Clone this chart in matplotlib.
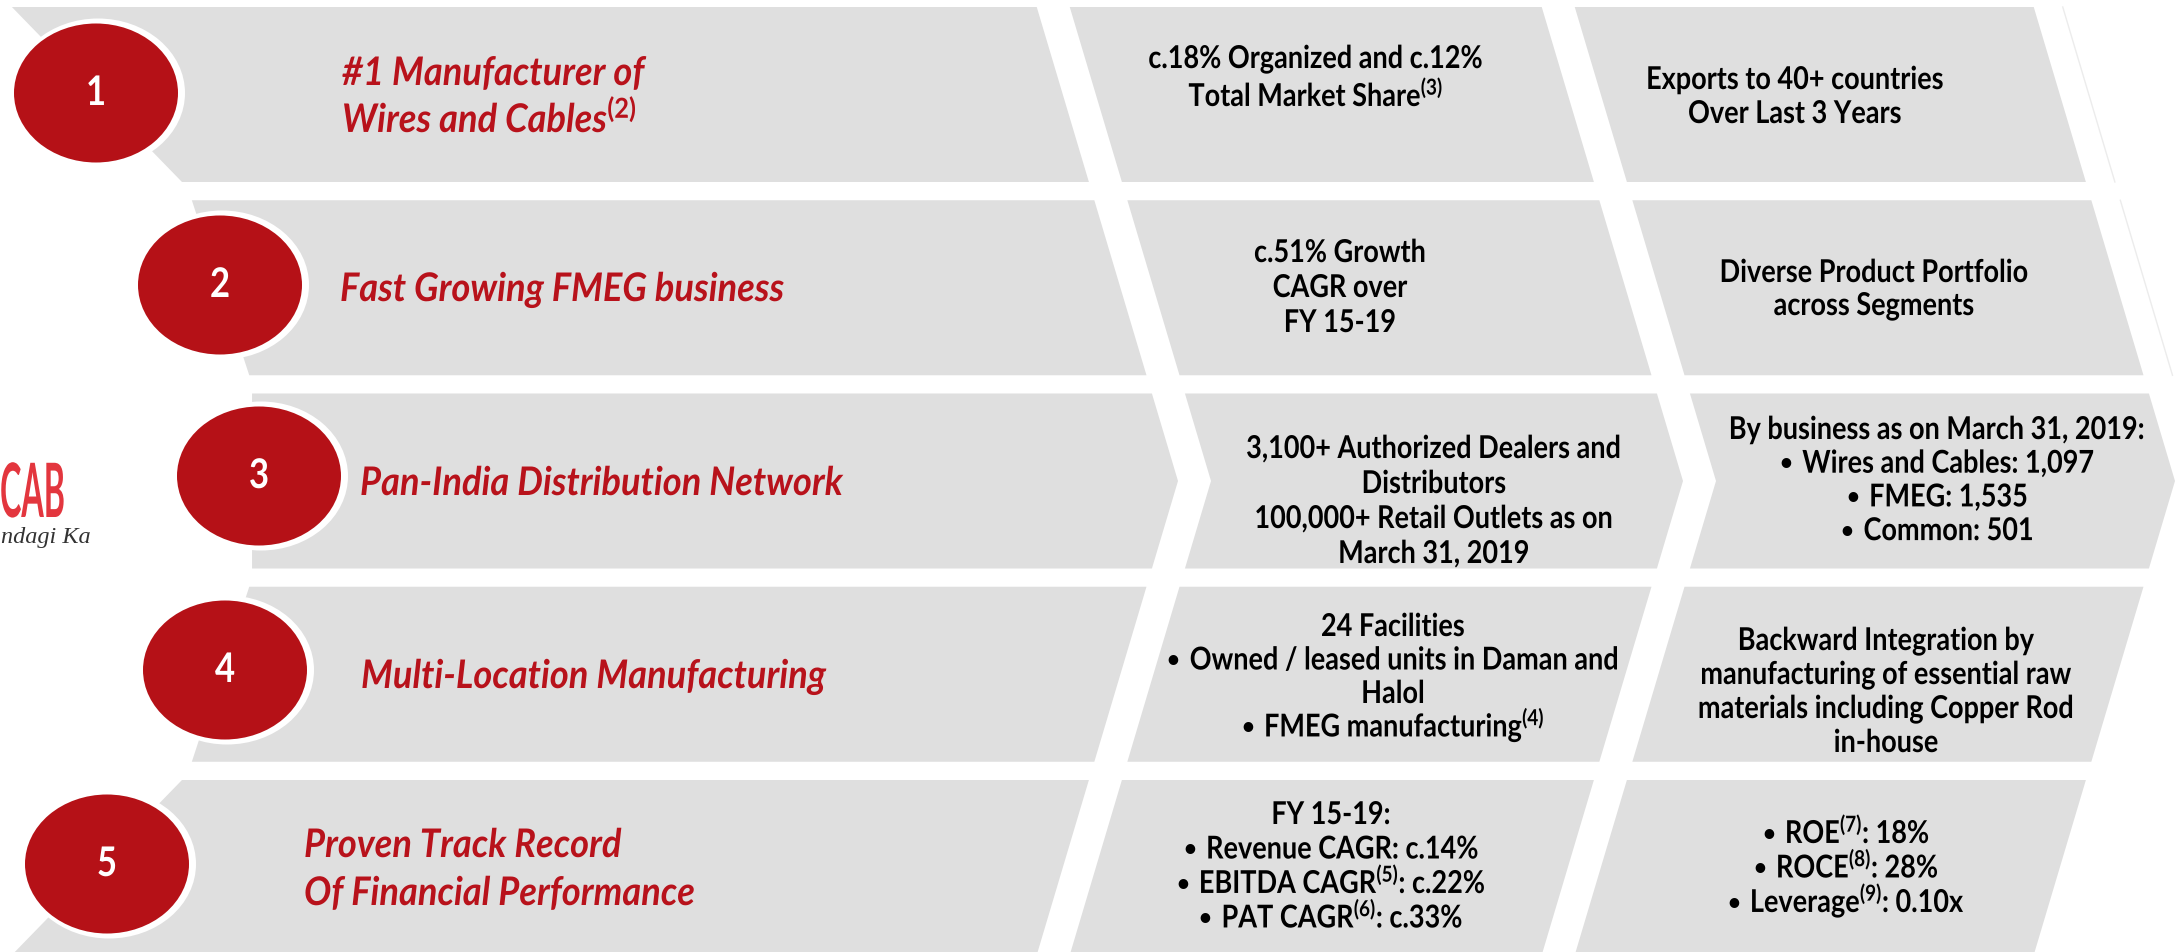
import numpy as np
import matplotlib
matplotlib.use("Agg")
import matplotlib.pyplot as plt
from matplotlib.patches import Polygon, Ellipse
from matplotlib.patheffects import AbstractPathEffect
from matplotlib.transforms import Affine2D, Bbox

# ---------------- data (text content) ----------------
BUL = "\u2022 "  # bullet marker used in the lists
numbers = ["1", "2", "3", "4", "5"]
titles = [
    ["#1 Manufacturer of", "Wires and Cables$^{\\mathit{(2)}}$"],
    ["Fast Growing FMEG business"],
    ["Pan-India Distribution Network"],
    ["Multi-Location Manufacturing"],
    ["Proven Track Record", "Of Financial Performance"],
]
middle_texts = [
    ["c.18% Organized and c.12%", "Total Market Share$^{(3)}$"],
    ["c.51% Growth", "CAGR over", "FY 15-19"],
    ["3,100+ Authorized Dealers and", "Distributors",
     "100,000+ Retail Outlets as on", "March 31, 2019"],
    ["24 Facilities", BUL + "Owned / leased units in Daman and", "Halol",
     BUL + "FMEG manufacturing$^{(4)}$"],
    ["FY 15-19:", BUL + "Revenue CAGR: c.14%", BUL + "EBITDA CAGR$^{(5)}$: c.22%",
     BUL + "PAT CAGR$^{(6)}$: c.33%"],
]
right_texts = [
    ["Exports to 40+ countries", "Over Last 3 Years"],
    ["Diverse Product Portfolio", "across Segments"],
    ["By business as on March 31, 2019:", BUL + "Wires and Cables: 1,097",
     BUL + "FMEG: 1,535", BUL + "Common: 501"],
    ["Backward Integration by", "manufacturing of essential raw",
     "materials including Copper Rod", "in-house"],
    [BUL + "ROE$^{(7)}$: 18%", BUL + "ROCE$^{(8)}$: 28%", BUL + "Leverage$^{(9)}$: 0.10x"],
]
logo_word = "CAB"
logo_tagline = "ndagi Ka"

# ---------------- layout ----------------
W, H, DPI = 2177, 952, 100
ROW_TOP0, ROW_PITCH, ROW_H = 7, 193.25, 175
MID_Y = 481
SLOPE = 0.298
APEX_A, APEX_B, APEX_C, APEX_D, APEX_E, APEX_F = 1178, 1211, 1683, 1716, 2175, 2204
ARC_CX, ARC_A, ARC_B = -160, 418, 520

ell_cx = [96, 220, 259, 225, 107]
ell_cy = [93, 285, 476, 670, 864]
ELL_W, ELL_H = 164, 139

title_x = [342, 340, 360, 361, 304]
title_base = [[85, 132], [301], [495], [688], [857, 905]]

mid_x = [1316, 1340, 1434, 1393, 1331]
mid_b0 = [68, 262, 458, 636, 824]
mid_step = [38, 35, 35, 33.5, 34.5]

right_x = [1795, 1874, 1937, 1886, 1846]
right_b0 = [89, 282, 439, 650, 843]
right_step = [34, 33, 33.7, 34, 34.5]

BODY_SQ = 0.86     # horizontal squeeze, gives the narrow Calibri-like look
TITLE_SQ = 0.92
NUM_SQ = 0.85
BULLET_GAP = 23    # px from bullet start to first letter

GRAY = "#dfdfdf"
RED = "#b51117"
TITLE_RED = "#b8121b"
LOGO_RED = "#e3363e"

plt.rcParams["font.family"] = ["Lato", "DejaVu Sans"]
plt.rcParams["mathtext.fontset"] = "custom"
plt.rcParams["mathtext.rm"] = "Lato:bold"
plt.rcParams["mathtext.bf"] = "Lato:bold"
plt.rcParams["mathtext.it"] = "Lato:italic:bold"

fig = plt.figure(figsize=(W / DPI, H / DPI), dpi=DPI)
ax = fig.add_axes([0, 0, 1, 1])
ax.set_xlim(0, W)
ax.set_ylim(H, 0)
ax.axis("off")
renderer = fig.canvas.get_renderer()


class Squeeze(AbstractPathEffect):
    """Draw text glyphs scaled horizontally about the text origin."""

    def __init__(self, sx):
        super().__init__()
        self.sx = sx

    def draw_path(self, renderer, gc, tpath, affine, rgbFace=None):
        renderer.draw_path(gc, tpath, Affine2D().scale(self.sx, 1) + affine, rgbFace)


def left_x(y):
    return ARC_CX + ARC_A * np.sqrt(max(0.0, 1 - ((y - MID_Y) / ARC_B) ** 2))


def chev_x(apex, y):
    return apex - SLOPE * abs(y - MID_Y)


def edge(apex, top, bot):
    pts = [(chev_x(apex, top), top)]
    if top < MID_Y < bot:
        pts.append((chev_x(apex, MID_Y), MID_Y))
    pts.append((chev_x(apex, bot), bot))
    return pts


def text_width(s, size, **kw):
    t = ax.text(0, 0, s, fontsize=size, **kw)
    w = t.get_window_extent(renderer).width
    t.remove()
    return w


def put(x, y, s, size, sx, ha="left", **kw):
    """Place (squeezed) text with its baseline at y."""
    w = text_width(s, size, **kw) * sx
    x0 = x - w / 2 if ha == "center" else x
    t = ax.text(x0, y, s, fontsize=size, ha="left", va="baseline", zorder=4, **kw)
    if sx != 1:
        t.set_path_effects([Squeeze(sx)])
        orig = t.get_window_extent

        def squeezed_extent(renderer=None, dpi=None, _orig=orig, _sx=sx):
            bb = _orig(renderer, dpi)
            return Bbox.from_extents(bb.x0, bb.y0, bb.x0 + bb.width * _sx, bb.y1)

        t.get_window_extent = squeezed_extent
    return x0, w


def put_line(x, y, s, size, sx, **kw):
    """Centered line; a leading bullet is drawn smaller, as in the original."""
    if s.startswith(BUL):
        rest = s[len(BUL):]
        wr = text_width(rest, size, **kw) * sx
        total = BULLET_GAP + wr
        x0 = x - total / 2
        ax.text(x0, y - 0.1 * size, "\u2022", fontsize=size * 0.7, ha="left",
                va="baseline", zorder=4, **kw)
        put(x0 + BULLET_GAP, y, rest, size, sx, **kw)
    else:
        put(x, y, s, size, sx, ha="center", **kw)


BODY_KW = dict(fontweight="bold", color="black")
TITLE_KW = dict(fontweight="bold", fontstyle="italic", color=TITLE_RED)

title_fs = 20 * 482 / (text_width("Pan-India Distribution Network", 20,
                                  fontweight="bold", fontstyle="italic") * TITLE_SQ)
body_fs = 20 * 375 / (text_width("3,100+ Authorized Dealers and", 20,
                                 fontweight="bold") * BODY_SQ)

for i in range(len(numbers)):
    top = ROW_TOP0 + i * ROW_PITCH
    bot = top + ROW_H
    # segment 1
    pts = [(left_x(top), top)] + edge(APEX_A, top, bot) + [(left_x(bot), bot)]
    ax.add_patch(Polygon(pts, closed=True, facecolor=GRAY, edgecolor="none", zorder=1))
    # segment 2
    pts = edge(APEX_B, top, bot) + edge(APEX_C, top, bot)[::-1]
    ax.add_patch(Polygon(pts, closed=True, facecolor=GRAY, edgecolor="none", zorder=1))
    # segment 3
    pts = edge(APEX_D, top, bot) + edge(APEX_E, top, bot)[::-1]
    ax.add_patch(Polygon(pts, closed=True, facecolor=GRAY, edgecolor="none", zorder=1))
    if i < 2:
        fx = edge(APEX_F, top, bot)
        ax.plot([p[0] for p in fx], [p[1] for p in fx], color="#ececec", lw=1, zorder=1)

    # numbered ellipse
    ax.add_patch(Ellipse((ell_cx[i] + 2, ell_cy[i]), ELL_W + 10, ELL_H + 10,
                         facecolor="white", edgecolor="none", zorder=2))
    ax.add_patch(Ellipse((ell_cx[i], ell_cy[i]), ELL_W, ELL_H,
                         facecolor=RED, edgecolor="none", zorder=3))
    put(ell_cx[i], ell_cy[i] + 12, numbers[i], 25 / NUM_SQ, NUM_SQ, ha="center",
        fontweight="bold", color="white")

    # title
    for line, b in zip(titles[i], title_base[i]):
        put(title_x[i], b, line, title_fs, TITLE_SQ, **TITLE_KW)

    # middle column
    for k, line in enumerate(middle_texts[i]):
        put_line(mid_x[i], mid_b0[i] + k * mid_step[i], line, body_fs, BODY_SQ, **BODY_KW)
    # right column
    for k, line in enumerate(right_texts[i]):
        put_line(right_x[i], right_b0[i] + k * right_step[i], line, body_fs, BODY_SQ, **BODY_KW)

# visible part of the logo at the left edge
logo_fs = 54
logo_sq = 65 / text_width(logo_word, logo_fs, fontweight="bold")
put(0, 517, logo_word, logo_fs, logo_sq, fontweight="bold", color=LOGO_RED)
ax.text(1, 543, logo_tagline, color="#333333", fontsize=17.5,
        family=["Liberation Serif", "DejaVu Serif"], fontstyle="italic",
        ha="left", va="baseline", zorder=4)

fig.savefig("out.png", dpi=DPI, facecolor="white")
